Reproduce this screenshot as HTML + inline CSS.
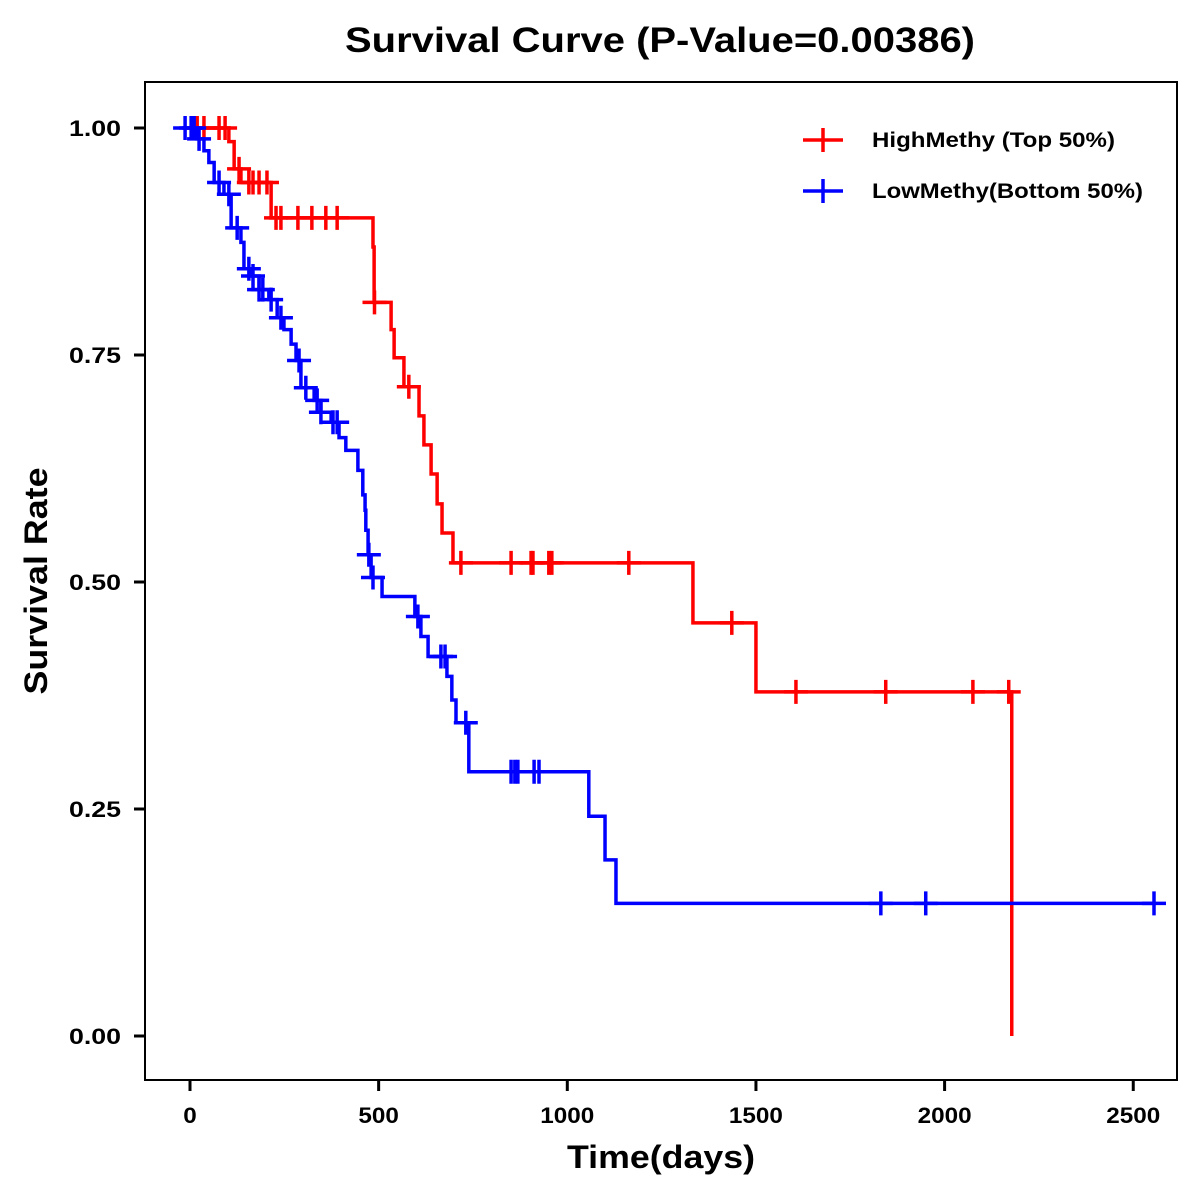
<!DOCTYPE html>
<html><head><meta charset="utf-8">
<style>
html,body{margin:0;padding:0;background:#fff;}
svg{display:block;font-family:"Liberation Sans",Arial,sans-serif;}
</style></head>
<body>
<svg id="chart" width="1200" height="1200" viewBox="0 0 1200 1200">
<text x="660" y="52" text-anchor="middle" font-size="35" font-weight="bold" textLength="630" lengthAdjust="spacingAndGlyphs">Survival Curve (P-Value=0.00386)</text>
<rect x="145" y="82" width="1032" height="998" fill="none" stroke="#000" stroke-width="2"/>
<g id="yaxis"></g>
<g id="xaxis"></g>
<text x="661" y="1168" text-anchor="middle" font-size="32" font-weight="bold" textLength="188" lengthAdjust="spacingAndGlyphs">Time(days)</text>
<text transform="translate(47,581) rotate(-90)" text-anchor="middle" font-size="32" font-weight="bold" textLength="227" lengthAdjust="spacingAndGlyphs">Survival Rate</text>
<g id="series"></g>
<g>
<g>
<line x1="803" y1="140" x2="843" y2="140" stroke="#f00" stroke-width="3.5"/>
<line x1="823" y1="128" x2="823" y2="152" stroke="#f00" stroke-width="3.5"/>
<text x="872" y="147" font-size="21" font-weight="bold" textLength="243" lengthAdjust="spacingAndGlyphs">HighMethy (Top 50%)</text>
</g>
<g>
<line x1="803" y1="191" x2="843" y2="191" stroke="#00f" stroke-width="3.5"/>
<line x1="823" y1="179" x2="823" y2="203" stroke="#00f" stroke-width="3.5"/>
<text x="872" y="198" font-size="21" font-weight="bold" textLength="271" lengthAdjust="spacingAndGlyphs">LowMethy(Bottom 50%)</text>
</g>
</g>
</svg>
<script>
const xTicks=[0,500,1000,1500,2000,2500];
const yTicks=[0,0.25,0.5,0.75,1.0];
const yTickLabels=["0.00","0.25","0.50","0.75","1.00"];
const highTimes=[103,117,135,215,485,488,533,541,567,607,620,639,655,668,697,1333,1500,2178];
const highSurv=[0.985,0.955,0.940,0.901,0.869,0.808,0.778,0.747,0.715,0.683,0.651,0.619,0.586,0.554,0.521,0.455,0.379,0.0];
const highEnd=2178;
const highCensor=[19,37,77,93,130,156,167,183,204,228,241,286,323,360,390,489,580,718,851,904,909,951,959,1163,1436,1606,1844,2075,2170];
const lowTimes=[19,37,50,64,90,109,135,143,162,183,209,231,249,268,281,294,329,347,374,395,413,445,458,464,466,472,480,509,596,612,631,681,694,705,739,1057,1100,1129];
const lowSurv=[0.988,0.975,0.962,0.940,0.927,0.890,0.874,0.845,0.837,0.822,0.811,0.791,0.778,0.762,0.744,0.714,0.700,0.687,0.676,0.659,0.645,0.623,0.596,0.579,0.557,0.530,0.505,0.484,0.462,0.440,0.418,0.396,0.370,0.345,0.291,0.242,0.194,0.146];
const lowEnd=2560;
const lowCensor=[-13,3,11,24,77,103,125,156,167,183,193,215,241,289,307,337,347,379,390,474,485,604,665,676,731,851,861,869,912,925,1831,1950,2555];

const NS="http://www.w3.org/2000/svg";
const xs=t=>190+t*0.3773;
const ys=s=>1036-s*908;
function mk(tag,attrs,parent){const e=document.createElementNS(NS,tag);for(const k in attrs)e.setAttribute(k,attrs[k]);parent.appendChild(e);return e;}
const yg=document.getElementById('yaxis'),xg=document.getElementById('xaxis'),sg=document.getElementById('series');
yTicks.forEach((v,i)=>{
 const l=mk('line',{x1:134,x2:145,y1:ys(v),y2:ys(v),stroke:'#000','stroke-width':3},yg);
 
 
 const t=mk('text',{x:121,y:ys(v)+8,'text-anchor':'end','font-size':22,'font-weight':'bold',textLength:52,lengthAdjust:'spacingAndGlyphs'},yg);
 t.textContent=yTickLabels[i];
 
 
});
xTicks.forEach(v=>{
 const l=mk('line',{x1:xs(v),x2:xs(v),y1:1080,y2:1091,stroke:'#000','stroke-width':3},xg);
 
 
 const s=String(v);
 const t=mk('text',{x:xs(v),y:1123,'text-anchor':'middle','font-size':22,'font-weight':'bold',textLength:s.length*13.5,lengthAdjust:'spacingAndGlyphs'},xg);
 t.textContent=s;
 
 
});
function survAt(times,surv,t){let s=1;for(let i=0;i<times.length;i++){if(times[i]<=t)s=surv[i];}return s;}
function draw(times,surv,end,cens,color,name){
 let d='M'+xs(0)+','+ys(1);
 for(let i=0;i<times.length;i++){d+=' H'+xs(times[i])+' V'+ys(surv[i]);}
 if(end>times[times.length-1])d+=' H'+xs(end);
 const p=mk('path',{d:d,fill:'none',stroke:color,'stroke-width':3.5},sg);
 
 
 cens.forEach(t=>{
  const v=survAt(times,surv,t);
  const g=mk('path',{d:'M'+(xs(t)-12)+','+ys(v)+' H'+(xs(t)+12)+' M'+xs(t)+','+(ys(v)-12)+' V'+(ys(v)+12),stroke:color,'stroke-width':3.5,fill:'none'},sg);
  
  
 });
}
draw(highTimes,highSurv,highEnd,highCensor,'#f00','high-methy');
draw(lowTimes,lowSurv,lowEnd,lowCensor,'#00f','low-methy');
</script>
</body></html>
